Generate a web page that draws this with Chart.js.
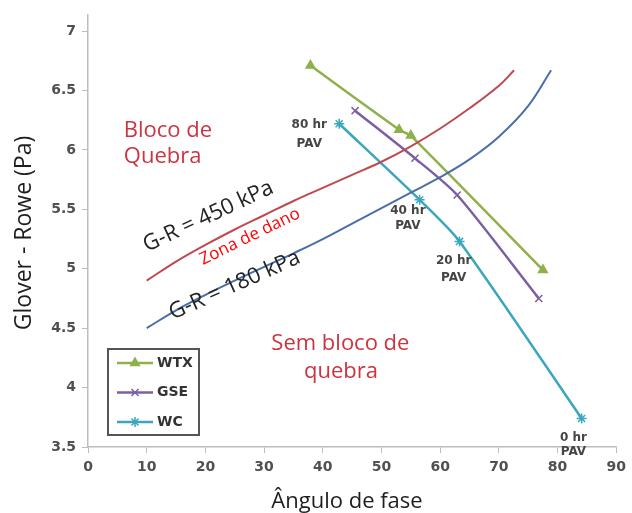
<!DOCTYPE html>
<html>
<head>
<meta charset="utf-8">
<script src="https://cdn.jsdelivr.net/npm/chart.js@4.4.1/dist/chart.umd.min.js"></script>
<style>
  html, body { margin: 0; padding: 0; background: #fff; }
  #wrap { width: 632px; height: 513px; }
</style>
</head>
<body>
<div id="wrap"><canvas id="chart" width="632" height="513"></canvas></div>
<script>
// binder series: phase angle (deg) vs Glover-Rowe (Pa) after PAV ageing
const wtxAngle = [37.9, 53.0, 55.0, 77.5];
const wtxGR = [6.71, 6.17, 6.12, 4.99];
const gseAngle = [45.5, 55.7, 62.9, 76.8];
const gseGR = [6.33, 5.93, 5.62, 4.75];
const wcAngle = [42.8, 56.5, 63.3, 84.1];
const wcGR = [6.22, 5.58, 5.23, 3.74];

// G-R threshold curves
const gr450Angle = [10, 15, 20, 25, 30, 35, 40, 45, 50, 55, 60, 65, 70, 72.6];
const gr450 = [4.9, 5.06, 5.2, 5.33, 5.45, 5.57, 5.68, 5.79, 5.9, 6.03, 6.18, 6.35, 6.54, 6.67];
const gr180Angle = [10, 15, 20, 25, 30, 35, 40, 45, 50, 55, 60, 65, 70, 75, 78.9];
const gr180 = [4.5, 4.65, 4.78, 4.9, 5.015, 5.13, 5.25, 5.38, 5.51, 5.64, 5.77, 5.92, 6.11, 6.37, 6.67];

const xTicks = [0, 10, 20, 30, 40, 50, 60, 70, 80, 90];
const yTicks = [3.5, 4, 4.5, 5, 5.5, 6, 6.5, 7];

const pts = (xs, ys) => xs.map((x, i) => ({ x: x, y: ys[i] }));

const GREEN = '#8fb04a';
const PURPLE = '#7b5fa3';
const TEAL = '#3ba6bd';
const RED_LINE = '#be4a50';
const BLUE_LINE = '#4a6fa8';
const RED_TEXT = '#cc3440';

const series = [
  { label: 'WTX', color: GREEN, style: 'triangle' },
  { label: 'GSE', color: PURPLE, style: 'crossRot' },
  { label: 'WC', color: TEAL, style: 'star' }
];

const REGION_FONT = '22px "Open Sans"';
const PAV_FONT = 'bold 12px "DejaVu Sans"';

// free text on the plot, anchored in data units
const notes = [
  { text: 'Bloco de', x: 6.1, y: 6.16, color: RED_TEXT, font: REGION_FONT, align: 'left' },
  { text: 'Quebra', x: 6.1, y: 5.94, color: RED_TEXT, font: REGION_FONT, align: 'left' },
  { text: 'Sem bloco de', x: 43.0, y: 4.37, color: RED_TEXT, font: REGION_FONT },
  { text: 'quebra', x: 43.1, y: 4.13, color: RED_TEXT, font: REGION_FONT },
  { text: 'G-R = 450 kPa', x: 20.5, y: 5.44, color: '#222', font: '22px "Open Sans"', rot: -25 },
  { text: 'Zona de dano', x: 27.6, y: 5.27, color: '#ff0000', font: '17px "Open Sans"', rot: -26 },
  { text: 'G-R = 180 kPa', x: 25.0, y: 4.86, color: '#222', font: '22px "Open Sans"', rot: -24 },
  { text: '80 hr', x: 37.7, y: 6.21 }, { text: 'PAV', x: 37.7, y: 6.05 },
  { text: '40 hr', x: 54.5, y: 5.49 }, { text: 'PAV', x: 54.5, y: 5.36 },
  { text: '20 hr', x: 62.3, y: 5.07 }, { text: 'PAV', x: 62.3, y: 4.92 },
  { text: '0 hr', x: 82.7, y: 3.58 }, { text: 'PAV', x: 82.7, y: 3.46 }
];

const overlay = {
  id: 'overlay',
  afterDraw(chart) {
    const ctx = chart.ctx;
    const xs = chart.scales.x, ys = chart.scales.y;
    ctx.save();
    ctx.textBaseline = 'middle';
    notes.forEach(n => {
      ctx.save();
      ctx.translate(xs.getPixelForValue(n.x), ys.getPixelForValue(n.y));
      if (n.rot) ctx.rotate(n.rot * Math.PI / 180);
      ctx.font = n.font || PAV_FONT;
      ctx.fillStyle = n.color || '#454545';
      ctx.textAlign = n.align || 'center';
      ctx.fillText(n.text, 0, 0);
      ctx.restore();
    });

    // axis titles
    ctx.fillStyle = '#1e1e1e';
    ctx.font = '22px "Open Sans"';
    ctx.textAlign = 'center';
    ctx.fillText('Ângulo de fase', 347, 502);
    ctx.save();
    ctx.translate(24, 233);
    ctx.rotate(-Math.PI / 2);
    ctx.font = '23px "Open Sans"';
    ctx.fillText('Glover - Rowe (Pa)', 0, 0);
    ctx.restore();

    // legend box
    ctx.strokeStyle = '#555';
    ctx.lineWidth = 2;
    ctx.fillStyle = '#fff';
    ctx.fillRect(108, 349, 91, 86);
    ctx.strokeRect(108, 349, 91, 86);
    series.forEach((s, i) => {
      const y = 363 + i * 29.5;
      ctx.strokeStyle = s.color;
      ctx.lineWidth = 2.5;
      ctx.beginPath();
      ctx.moveTo(117, y);
      ctx.lineTo(153, y);
      ctx.stroke();
      ctx.fillStyle = s.color;
      ctx.lineWidth = 1.5;
      Chart.helpers.drawPoint(ctx, {
        pointStyle: s.style, radius: 5, borderWidth: 1.5, rotation: 0
      }, 135, y);
      ctx.fillStyle = '#333';
      ctx.font = 'bold 14px "DejaVu Sans"';
      ctx.textAlign = 'left';
      ctx.fillText(s.label, 157, y);
    });
    ctx.restore();
  }
};

const lineSet = (data, color, style, tension) => ({
  data: data,
  showLine: true,
  borderColor: color,
  backgroundColor: color,
  borderWidth: 2.5,
  tension: tension,
  pointStyle: style,
  pointRadius: style ? 5 : 0,
  pointBorderWidth: 1.5,
  pointBorderColor: color,
  pointBackgroundColor: color
});

const tickFont = { family: 'DejaVu Sans', size: 14, weight: 'bold' };

new Chart(document.getElementById('chart'), {
  type: 'scatter',
  data: {
    datasets: [
      Object.assign(lineSet(pts(gr450Angle, gr450), RED_LINE, false, 0.4), { borderWidth: 2 }),
      Object.assign(lineSet(pts(gr180Angle, gr180), BLUE_LINE, false, 0.4), { borderWidth: 2 }),
      lineSet(pts(wtxAngle, wtxGR), GREEN, 'triangle', 0.15),
      lineSet(pts(gseAngle, gseGR), PURPLE, 'crossRot', 0.25),
      lineSet(pts(wcAngle, wcGR), TEAL, 'star', 0.25)
    ]
  },
  options: {
    responsive: false,
    animation: false,
    layout: { padding: { left: 0, top: 10, right: 12, bottom: 0 } },
    plugins: { legend: { display: false }, tooltip: { enabled: false } },
    scales: {
      x: {
        type: 'linear',
        min: 0,
        max: 90,
        afterBuildTicks: s => { s.ticks = xTicks.map(v => ({ value: v })); },
        afterFit: s => { s.height = 66; },
        grid: { drawOnChartArea: false, color: '#bdbdbd', tickLength: 6 },
        border: { color: '#bdbdbd', width: 1.5 },
        ticks: { color: '#505050', padding: 6, font: tickFont, callback: v => String(v) }
      },
      y: {
        type: 'linear',
        min: 3.5,
        max: 7.14,
        afterBuildTicks: s => { s.ticks = yTicks.map(v => ({ value: v })); },
        afterFit: s => { s.width = 88; },
        grid: { drawOnChartArea: false, color: '#bdbdbd', tickLength: 6 },
        border: { color: '#bdbdbd', width: 1.5 },
        ticks: { color: '#505050', padding: 6, font: tickFont, callback: v => String(v) }
      }
    }
  },
  plugins: [overlay]
});
</script>
</body>
</html>
